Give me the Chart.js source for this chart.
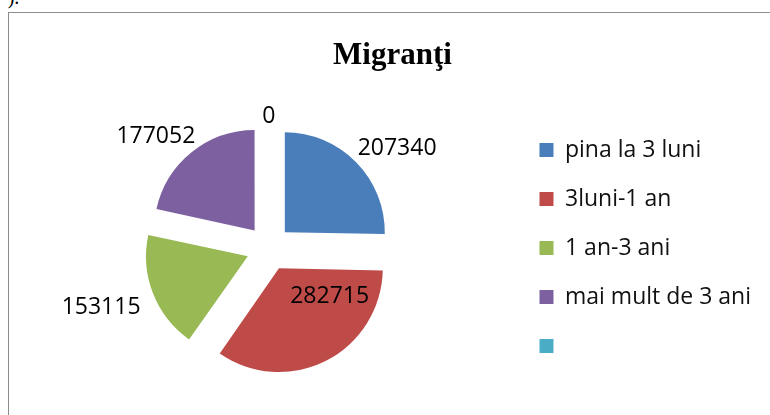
<!DOCTYPE html>
<html>
<head>
<meta charset="utf-8">
<script src="https://cdn.jsdelivr.net/npm/chart.js@4.4.1/dist/chart.umd.min.js"></script>
<style>
  html, body { margin: 0; padding: 0; width: 770px; height: 415px; overflow: hidden; background: #fff; }
  #frag { position: absolute; left: 1px; top: -14px; font: 20px "Liberation Serif", serif; color: #000; }
  #box { position: absolute; left: 8px; top: 12px; width: 774px; height: 403px; border-left: 1px solid #8c8c8c; border-top: 1px solid #8c8c8c; }
</style>
</head>
<body>
<div id="frag">-).</div>
<div id="box"><canvas id="pie_chart"></canvas></div>
<script>
// date din grafic
const categorii = ['pina la 3 luni', '3luni-1 an', '1 an-3 ani', 'mai mult de 3 ani', ''];
const valori = [207340, 282715, 153115, 177052, 0];
const culori = ['#4a7ebb', '#be4b48', '#98b954', '#7d60a0', '#4bacc6'];

const FONT = '"Open Sans", sans-serif';

// etichete cu valori (in afara feliilor, cea mare inauntru)
const etichete = {
  id: 'etichete',
  afterDatasetsDraw(chart) {
    const ctx = chart.ctx;
    const meta = chart.getDatasetMeta(0);
    ctx.save();
    ctx.font = '23px ' + FONT;
    ctx.fillStyle = '#000';
    ctx.textAlign = 'center';
    ctx.textBaseline = 'middle';
    meta.data.forEach((arc, i) => {
      const p = arc.getProps(['x', 'y', 'startAngle', 'endAngle', 'outerRadius'], true);
      const off = (arc.options.offset || 0) / 4;
      const span = p.endAngle - p.startAngle;
      const txt = String(valori[i]);
      const w = ctx.measureText(txt).width;
      let lx, ly;
      if (span > 2) {
        const a = p.startAngle + span * 0.3;
        const d = off + p.outerRadius * 0.55;
        lx = p.x + Math.cos(a) * d;
        ly = p.y + Math.sin(a) * d;
      } else {
        const a = (p.startAngle + p.endAngle) / 2;
        const d = p.outerRadius + off + (span > 0 ? 18 : 5);
        lx = p.x + Math.cos(a) * (d + w / 2);
        ly = p.y + Math.sin(a) * (d + 9) + 5;
      }
      ctx.fillText(txt, lx, ly);
    });
    ctx.restore();
  }
};

new Chart(document.getElementById('pie_chart'), {
  type: 'pie',
  data: {
    labels: categorii,
    datasets: [{
      data: valori,
      backgroundColor: culori,
      borderWidth: 0,
      offset: 90,
    }]
  },
  plugins: [etichete],
  options: {
    responsive: true,
    maintainAspectRatio: false,
    animation: false,
    events: [],
    radius: 100,
    layout: { padding: { left: 15, right: 22, top: 0, bottom: 4 } },
    plugins: {
      tooltip: { enabled: false },
      title: {
        display: true,
        text: 'Migranţi',
        color: '#000',
        font: { family: '"Liberation Serif", serif', size: 31, weight: 'bold' },
        padding: { top: 24, bottom: 10 }
      },
      legend: {
        position: 'right',
        fullSize: false,
        labels: {
          color: '#111',
          boxWidth: 14,
          boxHeight: 14,
          padding: 26,
          font: { family: FONT, size: 23 }
        }
      }
    }
  }
});
</script>
</body>
</html>
